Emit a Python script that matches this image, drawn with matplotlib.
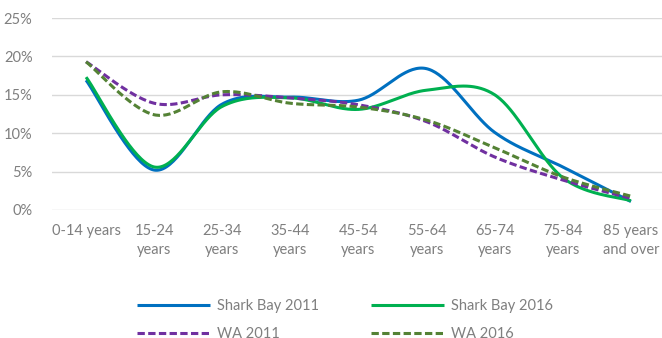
import numpy as np
import matplotlib
matplotlib.use("Agg")
import matplotlib.pyplot as plt
from matplotlib.ticker import FuncFormatter

age_groups = ["0-14 years", "15-24\nyears", "25-34\nyears", "35-44\nyears", "45-54\nyears",
              "55-64\nyears", "65-74\nyears", "75-84\nyears", "85 years\nand over"]

shark_bay_2011 = [16.9, 5.2, 13.8, 14.7, 14.3, 18.4, 10.1, 5.6, 1.1]
shark_bay_2016 = [17.3, 5.6, 13.5, 14.6, 13.1, 15.6, 15.0, 4.2, 1.2]
wa_2011 = [19.3, 13.9, 15.0, 14.6, 13.7, 11.5, 6.9, 3.9, 1.5]
wa_2016 = [19.3, 12.4, 15.4, 13.9, 13.4, 11.7, 8.1, 4.3, 1.8]

series_names = ["Shark Bay 2011", "Shark Bay 2016", "WA 2011", "WA 2016"]


def smooth(xs, ys, steps=40):
    """Piecewise cubic Bezier through the points (spreadsheet-style smoothed line)."""
    p = np.column_stack([xs, ys]).astype(float)
    ext = np.vstack([p[0], p, p[-1]])
    out = []
    t = np.linspace(0, 1, steps)[:, None]
    for i in range(len(p) - 1):
        p0, p3 = ext[i + 1], ext[i + 2]
        c1 = p0 + (ext[i + 2] - ext[i]) / 6.0
        c2 = p3 - (ext[i + 3] - ext[i + 1]) / 6.0
        seg = ((1 - t) ** 3) * p0 + 3 * ((1 - t) ** 2) * t * c1 + 3 * (1 - t) * t ** 2 * c2 + t ** 3 * p3
        out.append(seg if i == 0 else seg[1:])
    s = np.vstack(out)
    return s[:, 0], s[:, 1]


plt.rcParams["font.family"] = ["Lato", "DejaVu Sans"]
text_color = "#7f7f7f"

fig = plt.figure(figsize=(6.62, 3.38), dpi=100)
ax = fig.add_axes([52 / 662, 1 - 210 / 338, 613 / 662, 192 / 338])

x = np.arange(len(age_groups))
styles = [
    (shark_bay_2011, "#0070C0", "-"),
    (shark_bay_2016, "#00B050", "-"),
    (wa_2011, "#7030A0", (0, (2.4, 1.1))),
    (wa_2016, "#548235", (0, (2.4, 1.1))),
]
handles = []
for (vals, color, ls), name in zip(styles, series_names):
    sx, sy = smooth(x, vals)
    h, = ax.plot(sx, sy, color=color, lw=2.2, linestyle=ls, label=name,
                 solid_capstyle="butt", dash_capstyle="butt")
    handles.append(h)

ax.set_xlim(-0.5, len(age_groups) - 0.5)
ax.set_ylim(0, 25)
ax.set_yticks(np.arange(0, 26, 5))
ax.yaxis.set_major_formatter(FuncFormatter(lambda v, _: f"{v:.0f}%"))
ax.set_xticks(x)
ax.set_xticklabels(age_groups, linespacing=1.45)
ax.grid(axis="y", color="#d9d9d9", lw=1)
ax.set_axisbelow(True)
for s in ax.spines.values():
    s.set_visible(False)
ax.tick_params(axis="both", length=0, colors=text_color, labelsize=10.5)
ax.tick_params(axis="y", pad=14)
ax.tick_params(axis="x", pad=10)

order = [0, 2, 1, 3]
leg = fig.legend([handles[i] for i in order], [series_names[i] for i in order],
                 ncol=2, loc="center", bbox_to_anchor=(345 / 662, 1 - 320 / 338),
                 frameon=False, fontsize=10.5, handlelength=5.0, handletextpad=0.45,
                 columnspacing=3.6, labelspacing=0.95, labelcolor=text_color)

fig.savefig("out.png", dpi=100)
